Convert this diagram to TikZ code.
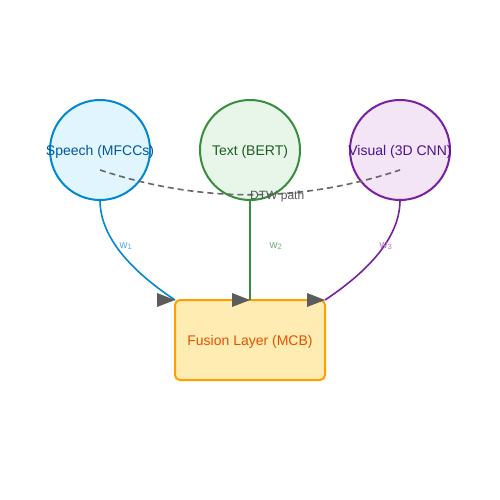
\documentclass[tikz,border=0pt]{standalone}
\usepackage{fontspec}
\setmainfont{Liberation Sans}
\definecolor{spfill}{HTML}{E1F5FE}
\definecolor{spdraw}{HTML}{0288D1}
\definecolor{sptext}{HTML}{01579B}
\definecolor{txfill}{HTML}{E8F5E9}
\definecolor{txdraw}{HTML}{388E3C}
\definecolor{txtext}{HTML}{1B5E20}
\definecolor{vifill}{HTML}{F3E5F5}
\definecolor{vidraw}{HTML}{7B1FA2}
\definecolor{vitext}{HTML}{4A148C}
\definecolor{fufill}{HTML}{FFECB3}
\definecolor{fudraw}{HTML}{FFA000}
\definecolor{futext}{HTML}{E65100}
\definecolor{dtw}{HTML}{666666}
\begin{document}
\begin{tikzpicture}[x=1pt,y=-1pt,
  modality/.style={circle,minimum size=100pt,inner sep=0pt,outer sep=0pt,line width=2pt},
  modtext/.style={font=\fontsize{14}{16}\selectfont,yshift=-1.5pt},
  fusionbox/.style={rectangle,rounded corners=5pt,minimum width=150pt,minimum height=80pt,outer sep=0pt,text depth=0pt,line width=2pt,draw=fudraw,fill=fufill,text=futext,font=\fontsize{14}{16}\selectfont},
  conn/.style={line width=1.6pt},
  wlabel/.style={font=\fontsize{11}{13}\selectfont},
  tipshape/.style={fill=dtw!90!black,draw=none}]
\useasboundingbox (0,0) rectangle (500,500);
\node[modality,draw=spdraw,fill=spfill,label={[modtext,text=sptext]center:Speech (MFCCs)}] (sp) at (100,150) {};
\node[modality,draw=txdraw,fill=txfill,label={[modtext,text=txtext]center:Text (BERT)}] (tx) at (250,150) {};
\node[modality,draw=vidraw,fill=vifill,label={[modtext,text=vitext]center:Visual (3D CNN)}] (vi) at (400,150) {};
\node[fusionbox,anchor=north west] (fu) at (175,300) {Fusion Layer (MCB)};
% connectors
\draw[conn,spdraw] (sp.south) .. controls ([yshift=-33.3pt]sp.south) and ([xshift=-50pt,yshift=33.3pt]fu.north west) .. (fu.north west);
\draw[conn,txdraw] (tx.south) -- (fu.north);
\draw[conn,vidraw] (vi.south) .. controls ([yshift=-33.3pt]vi.south) and ([xshift=50pt,yshift=33.3pt]fu.north east) .. (fu.north east);
% arrowheads (pointing right)
\foreach \a in {fu.north west,fu.north,fu.north east}{
  \fill[tipshape] (\a) -- ++(-18,-7) -- ++(0,14) -- cycle;
}
% DTW path
\coordinate (d1) at (100,170);
\coordinate (d2) at (400,170);
\draw[line width=1.6pt,dtw,dash pattern=on 6pt off 4pt] (d1) .. controls (200,203) and (300,203) .. (d2);
\node[font=\fontsize{12}{14}\selectfont,text=dtw!85!black,anchor=west,inner sep=0pt] (dl) at (250,196) {DTW path};
% weight labels
\node[wlabel,text=spdraw!70] (w1) at (126,246) {w\textsubscript{1}};
\node[wlabel,text=txdraw!70] (w2) at (276,246) {w\textsubscript{2}};
\node[wlabel,text=vidraw!60] (w3) at (386,246) {w\textsubscript{3}};
\end{tikzpicture}
\end{document}
